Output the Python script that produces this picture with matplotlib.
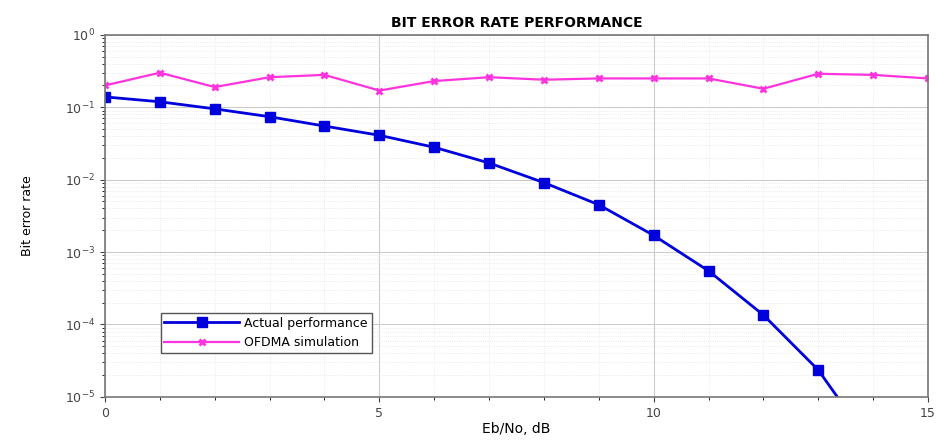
import numpy as np
import matplotlib.pyplot as plt

ebno = [0, 1, 2, 3, 4, 5, 6, 7, 8, 9, 10, 11, 12, 13, 14, 15]
actual = [0.139, 0.119, 0.095, 0.074, 0.055, 0.041, 0.028, 0.017,
          0.0091, 0.0045, 0.0017, 5.5e-4, 1.35e-4, 2.35e-5, 2e-6, None]
ofdma = [0.20, 0.30, 0.19, 0.26, 0.28, 0.17, 0.23, 0.26,
         0.24, 0.25, 0.25, 0.25, 0.18, 0.29, 0.28, 0.25]

fig = plt.figure(figsize=(9.46, 4.41), dpi=100)
ax = fig.add_axes([0.111, 0.10, 0.870, 0.821])

xa = [x for x, v in zip(ebno, actual) if v is not None]
ya = [v for v in actual if v is not None]
ax.semilogy(xa, ya, color='#0000dd', linewidth=2.0, marker='s', markersize=6.5,
            label='Actual performance')
ax.semilogy(ebno, ofdma, color='#ff33dd', linewidth=1.6, marker='x', markersize=5,
            markeredgewidth=2, label='OFDMA simulation')

ax.set_xlim(0, 15)
ax.set_ylim(1e-5, 1)
ax.set_xticks([0, 5, 10, 15])
ax.grid(True, which='major', color='#cccccc', linewidth=0.8)
ax.grid(True, which='minor', color='#e4e4e4', linewidth=0.6, linestyle=':')
ax.minorticks_on()
for s in ax.spines.values():
    s.set_color('#777777')
    s.set_linewidth(1.2)
ax.tick_params(labelsize=9, colors='#444444')

ax.set_title('BIT ERROR RATE PERFORMANCE', fontsize=10, fontweight='bold', pad=6)
ax.set_xlabel('Eb/No, dB', fontsize=10, labelpad=2)
ax.set_ylabel('Bit error rate', fontsize=9, labelpad=22)
ax.legend(loc='lower left', bbox_to_anchor=(0.06, 0.105), fontsize=9,
          fancybox=False, edgecolor='#555555', framealpha=1, borderpad=0.3,
          handlelength=6, handletextpad=0.4)

fig.savefig('out.png', dpi=100)
